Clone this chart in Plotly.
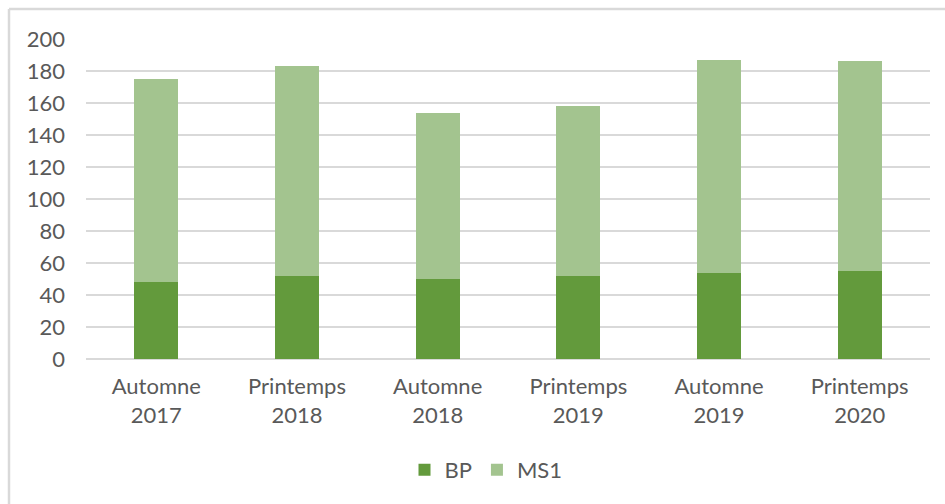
import plotly.graph_objects as go

categories = ["Automne<br>2017", "Printemps<br>2018", "Automne<br>2018",
              "Printemps<br>2019", "Automne<br>2019", "Printemps<br>2020"]
bp_values = [48, 52, 50, 52, 54, 55]
ms1_values = [127, 131, 104, 106, 133, 131]
y_ticks = [0, 20, 40, 60, 80, 100, 120, 140, 160, 180, 200]

FONT = "Lato, 'Open Sans', sans-serif"
TXT = "#595959"
GRID = "#d9d9d9"
FS = 22

fig = go.Figure()
fig.add_trace(go.Bar(x=categories, y=bp_values, name="BP",
                     marker=dict(color="#639a3c", line=dict(width=0))))
fig.add_trace(go.Bar(x=categories, y=ms1_values, name="MS1",
                     marker=dict(color="#a3c48f", line=dict(width=0))))

W, H = 945, 504
L, R, T, B = 86, 15, 39, 145
pw, ph = W - L - R, H - T - B

def px(xp):
    return (xp - L) / pw

def py(yp):
    return (H - B - yp) / ph

fig.update_layout(
    width=W, height=H,
    barmode="stack",
    bargap=0.687,
    margin=dict(l=L, r=R, t=T, b=B, pad=0),
    paper_bgcolor="white",
    plot_bgcolor="white",
    font=dict(family=FONT, size=FS, color=TXT),
    showlegend=True,
    legend=dict(orientation="h", x=px(486), y=py(470), xanchor="center", yanchor="middle",
                font=dict(family=FONT, size=FS, color=TXT), itemwidth=30,
                bgcolor="rgba(0,0,0,0)", traceorder="normal"),
    xaxis=dict(showgrid=False, showline=False, ticks="", tickfont=dict(size=FS, color=TXT),
               ticklabelstandoff=12, fixedrange=True),
    yaxis=dict(range=[0, 200], tickvals=y_ticks, showgrid=True, gridcolor=GRID, gridwidth=1.5,
               zeroline=True, zerolinecolor=GRID, zerolinewidth=1.5, showline=False,
               ticks="", ticklabelstandoff=20, tickfont=dict(size=FS, color=TXT),
               fixedrange=True),
    shapes=[
        dict(type="line", xref="paper", yref="paper", x0=px(9), x1=px(9), y0=py(9), y1=py(504),
             line=dict(color=GRID, width=2.5)),
        dict(type="line", xref="paper", yref="paper", x0=px(9), x1=px(945), y0=py(9), y1=py(9),
             line=dict(color=GRID, width=2.5)),
    ],
)

fig.write_html("out.html")
